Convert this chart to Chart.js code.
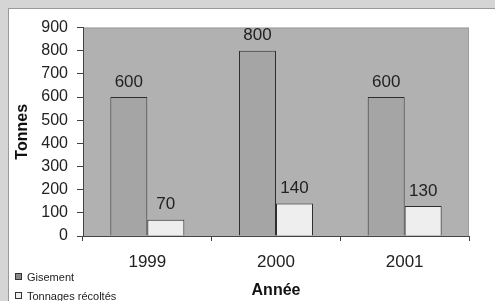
<!DOCTYPE html>
<html>
<head>
<meta charset="utf-8">
<script src="https://cdn.jsdelivr.net/npm/chart.js@4/dist/chart.umd.min.js"></script>
<style>
  html, body { margin: 0; padding: 0; }
  body { width: 495px; height: 301px; background: #d5d5d5; overflow: hidden; position: relative; }
  #frame {
    position: absolute; left: 8px; top: 8px; width: 487px; height: 293px;
    background: #fff; border-left: 1px solid #999; border-top: 1px solid #999;
  }
  canvas { display: block; }
</style>
</head>
<body>
<div id="frame"><canvas id="myChart" width="486" height="292"></canvas></div>
<script>
const years = ['1999', '2000', '2001']
const gisement = [600, 800, 600]
const tonnages = [70, 140, 130]
const seriesNames = ['Gisement', 'Tonnages récoltés']

const font = 'Liberation Sans, Arial, sans-serif'

// fond gris de la zone de tracé
const plotBg = {
  id: 'plotBg',
  beforeDraw(chart) {
    const { ctx, chartArea: a } = chart
    ctx.save()
    ctx.fillStyle = '#b1b1b1'
    ctx.fillRect(a.left, a.top, a.right - a.left, a.bottom - a.top)
    ctx.strokeStyle = '#9c9c9c'
    ctx.lineWidth = 1
    ctx.strokeRect(a.left + 0.5, a.top + 0.5, a.right - a.left - 1, a.bottom - a.top)
    ctx.restore()
  }
}

// valeurs au-dessus des barres
const valueLabels = {
  id: 'valueLabels',
  afterDatasetsDraw(chart) {
    const ctx = chart.ctx
    ctx.save()
    ctx.font = '17px ' + font
    ctx.fillStyle = '#222'
    ctx.textAlign = 'center'
    ctx.textBaseline = 'middle'
    chart.data.datasets.forEach((ds, i) => {
      chart.getDatasetMeta(i).data.forEach((bar, j) => {
        ctx.fillText(ds.data[j], bar.x, bar.y - 15)
      })
    })
    ctx.restore()
  }
}

// légende en bas à gauche, une ligne par série
const sideLegend = {
  id: 'sideLegend',
  afterDraw(chart) {
    const ctx = chart.ctx
    ctx.save()
    ctx.font = '11px ' + font
    ctx.textBaseline = 'middle'
    chart.data.datasets.forEach((ds, i) => {
      const y = 268 + i * 19
      ctx.fillStyle = i == 0 ? '#8a8a8a' : ds.backgroundColor
      ctx.fillRect(6.5, y - 3.5, 6, 6)
      ctx.strokeStyle = '#333'
      ctx.lineWidth = 1
      ctx.strokeRect(6.5, y - 3.5, 6, 6)
      ctx.fillStyle = '#222'
      ctx.fillText(ds.label, 18, y + 0.5)
    })
    ctx.restore()
  }
}

const ctx = document.getElementById('myChart')

new Chart(ctx, {
  type: 'bar',
  data: {
    labels: years,
    datasets: [{
      label: seriesNames[0],
      data: gisement,
      backgroundColor: '#a5a5a5',
      borderColor: '#2e2e2e',
      borderWidth: 1,
      categoryPercentage: 0.575,
      barPercentage: 1
    }, {
      label: seriesNames[1],
      data: tonnages,
      backgroundColor: '#eeeeee',
      borderColor: '#2e2e2e',
      borderWidth: 1,
      categoryPercentage: 0.575,
      barPercentage: 1
    }]
  },
  options: {
    responsive: false,
    animation: false,
    layout: { padding: { top: 13, right: 26, left: 0, bottom: 0 } },
    plugins: {
      legend: { display: false },
      tooltip: { enabled: false }
    },
    scales: {
      x: {
        grid: { drawOnChartArea: false, tickLength: 5, color: '#444', offset: true },
        border: { color: '#444' },
        ticks: { color: '#222', font: { family: font, size: 17 }, padding: 11 },
        title: { display: true, text: 'Année', color: '#111', font: { family: font, size: 16, weight: 'bold' }, padding: { top: 0, bottom: 1 } },
        afterFit(scale) { scale.height = 65 }
      },
      y: {
        min: 0,
        max: 900,
        ticks: { stepSize: 100, color: '#222', font: { family: font, size: 16 }, padding: 9 },
        grid: { drawOnChartArea: false, tickLength: 6, color: '#444' },
        border: { color: '#444' },
        title: { display: true, text: 'Tonnes', color: '#111', font: { family: font, size: 16, weight: 'bold' }, padding: { top: 4, bottom: 0 } },
        afterFit(scale) { scale.width = 74 }
      }
    }
  },
  plugins: [plotBg, valueLabels, sideLegend]
})
</script>
</body>
</html>
